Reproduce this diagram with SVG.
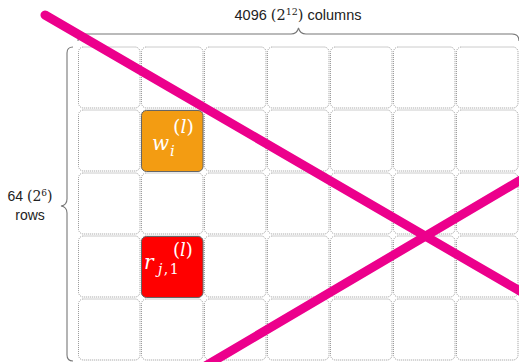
<svg xmlns="http://www.w3.org/2000/svg" width="519" height="362" viewBox="0 0 519 362">
<style>
.cell{fill:#fff;stroke:#999;stroke-width:1;stroke-dasharray:1 1}
.brace{fill:none;stroke:#777;stroke-width:1.1}
.lbl{font-family:"Liberation Sans","DejaVu Sans",sans-serif;fill:#222}
.mth{font-family:"DejaVu Serif","Liberation Serif",serif;fill:#222}
.w{font-family:"DejaVu Serif","Liberation Serif",serif;fill:#fff}
.strike{stroke:#ec008c;stroke-width:9;stroke-linecap:round;fill:none}
</style>
<defs>
<rect id="c" width="61.5" height="61" rx="5" class="cell"/>
</defs>
<g id="grid">
<use href="#c" x="78.5" y="47"/><use href="#c" x="141.5" y="47"/><use href="#c" x="204.5" y="47"/><use href="#c" x="267.5" y="47"/><use href="#c" x="330.5" y="47"/><use href="#c" x="393.5" y="47"/><use href="#c" x="456.5" y="47"/>
<use href="#c" x="78.5" y="110"/><use href="#c" x="141.5" y="110"/><use href="#c" x="204.5" y="110"/><use href="#c" x="267.5" y="110"/><use href="#c" x="330.5" y="110"/><use href="#c" x="393.5" y="110"/><use href="#c" x="456.5" y="110"/>
<use href="#c" x="78.5" y="173"/><use href="#c" x="141.5" y="173"/><use href="#c" x="204.5" y="173"/><use href="#c" x="267.5" y="173"/><use href="#c" x="330.5" y="173"/><use href="#c" x="393.5" y="173"/><use href="#c" x="456.5" y="173"/>
<use href="#c" x="78.5" y="236"/><use href="#c" x="141.5" y="236"/><use href="#c" x="204.5" y="236"/><use href="#c" x="267.5" y="236"/><use href="#c" x="330.5" y="236"/><use href="#c" x="393.5" y="236"/><use href="#c" x="456.5" y="236"/>
<use href="#c" x="78.5" y="299"/><use href="#c" x="141.5" y="299"/><use href="#c" x="204.5" y="299"/><use href="#c" x="267.5" y="299"/><use href="#c" x="330.5" y="299"/><use href="#c" x="393.5" y="299"/><use href="#c" x="456.5" y="299"/>
</g>
<g id="w-cell">
<rect x="141.5" y="110.5" width="61.5" height="61" rx="5" fill="#f39c12" stroke="#666" stroke-width="1"/>
<text class="w" x="173" y="133" font-size="19">(<tspan font-style="italic">l</tspan>)</text>
<text class="w" x="152" y="150" font-size="20" font-style="italic">w</text>
<text class="w" x="170" y="156" font-size="15" font-style="italic">i</text>
</g>
<g id="r-cell">
<rect x="141.5" y="236.5" width="61.5" height="61" rx="5" fill="#ff0000" stroke="#666" stroke-width="1"/>
<text class="w" x="173" y="256" font-size="18">(<tspan font-style="italic">l</tspan>)</text>
<text class="w" x="144" y="269" font-size="20" font-style="italic">r</text>
<text class="w" x="158" y="274" font-size="14" letter-spacing="1.5"><tspan font-style="italic">j</tspan>,1</text>
</g>
<g id="columns-brace">
<path class="brace" d="M78,41 Q78,34 85,34 L291,34 Q297,34 298.5,28 Q300,34 306,34 L512,34 Q519,34 519,41"/>
<text class="lbl" x="298" y="20" font-size="14.5" text-anchor="middle">4096 <tspan class="mth">(2<tspan font-size="9.5" dy="-5">12</tspan><tspan dy="5">)</tspan></tspan> columns</text>
</g>
<g id="rows-brace">
<path class="brace" d="M73,47 Q67,47 67,53 L67,199 Q67,205 61,206 Q67,207 67,213 L67,355 Q67,361 73,361"/>
<text class="lbl" x="30" y="201" font-size="14" text-anchor="middle">64 <tspan class="mth">(2<tspan font-size="9" dy="-5">6</tspan><tspan dy="5">)</tspan></tspan></text>
<text class="lbl" x="30" y="220" font-size="14" text-anchor="middle">rows</text>
</g>
<g id="connectors">
<line class="strike" x1="45" y1="15" x2="580" y2="326"/>
<line class="strike" x1="185" y1="378" x2="580" y2="145"/>
</g>
</svg>
